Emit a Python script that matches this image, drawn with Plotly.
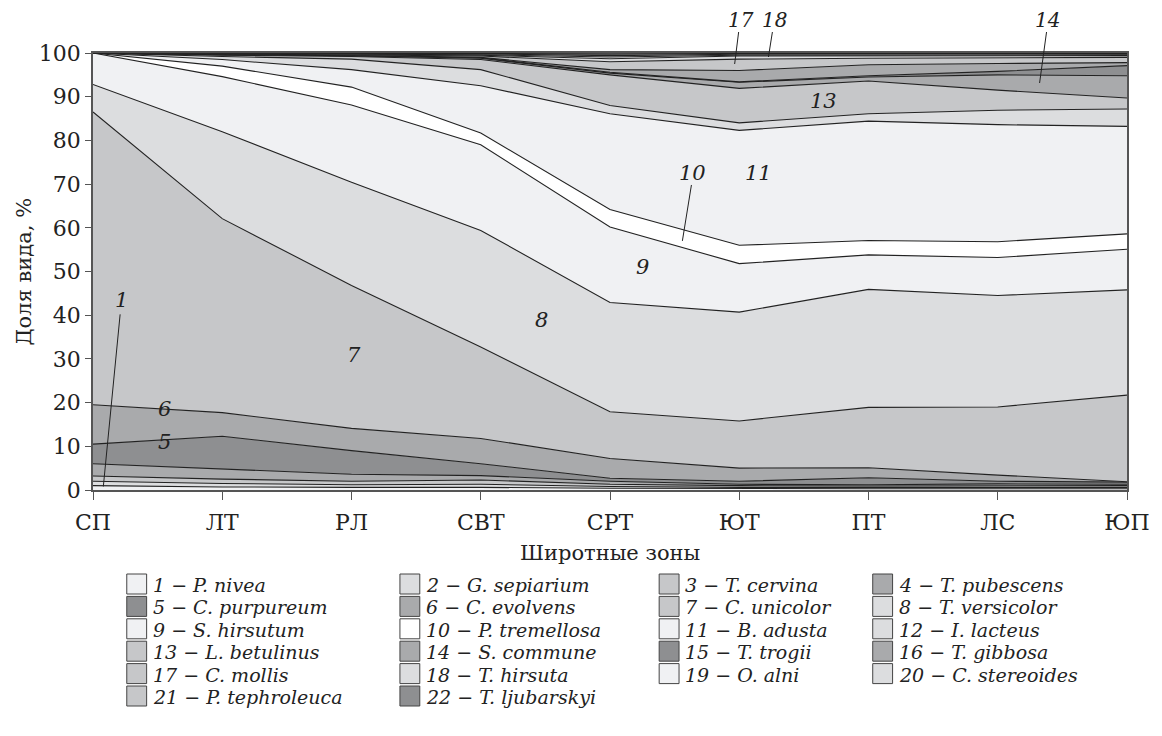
import plotly.graph_objects as go

zones = ["СП", "ЛТ", "РЛ", "СВТ", "СРТ", "ЮТ", "ПТ", "ЛС", "ЮП"]
y_ticks = [0, 10, 20, 30, 40, 50, 60, 70, 80, 90, 100]

species = [
    "P. nivea", "G. sepiarium", "T. cervina", "T. pubescens", "C. purpureum",
    "C. evolvens", "C. unicolor", "T. versicolor", "S. hirsutum", "P. tremellosa",
    "B. adusta", "I. lacteus", "L. betulinus", "S. commune", "T. trogii",
    "T. gibbosa", "C. mollis", "T. hirsuta", "O. alni", "C. stereoides",
    "P. tephroleuca", "T. ljubarskyi",
]

# share of each species, % (per latitudinal zone)
sp01 = [1.0, 0.7, 0.6, 0.6, 0.4, 0.3, 0.3, 0.3, 0.3]
sp02 = [1.0, 0.8, 0.6, 0.7, 0.4, 0.3, 0.3, 0.3, 0.3]
sp03 = [1.2, 1.0, 0.8, 1.0, 0.5, 0.4, 0.3, 0.4, 0.4]
sp04 = [2.8, 2.3, 1.6, 1.0, 0.7, 0.3, 0.3, 0.4, 0.3]
sp05 = [4.5, 7.5, 5.4, 2.7, 0.7, 0.7, 1.6, 0.6, 0.5]
sp06 = [9.0, 5.4, 5.1, 5.8, 4.5, 3.0, 2.3, 1.4, 0.1]
sp07 = [67.0, 44.4, 32.7, 20.9, 10.7, 10.8, 13.8, 15.6, 19.8]
sp08 = [6.3, 19.9, 23.6, 26.7, 25.0, 24.9, 27.0, 25.5, 24.1]
sp09 = [7.2, 12.6, 17.7, 19.6, 17.3, 11.1, 7.9, 8.7, 9.3]
sp10 = [0.0, 2.4, 4.1, 2.7, 4.0, 4.2, 3.3, 3.6, 3.5]
sp11 = [0.0, 1.5, 4.0, 10.8, 21.9, 26.3, 27.3, 26.8, 24.6]
sp12 = [0.0, 0.7, 2.4, 3.7, 1.9, 1.7, 1.7, 3.3, 4.0]
sp13 = [0.0, 0.3, 0.6, 2.3, 7.0, 7.9, 7.5, 4.6, 2.5]
sp14 = [0.0, 0.1, 0.2, 0.3, 0.4, 1.4, 0.9, 3.5, 5.1]
sp15 = [0.0, 0.0, 0.0, 0.1, 0.2, 0.1, 0.3, 0.8, 2.3]
sp16 = [0.0, 0.1, 0.1, 0.1, 0.6, 2.6, 2.5, 1.8, 0.7]
sp17 = [0.0, 0.1, 0.1, 0.3, 1.8, 2.6, 1.5, 1.3, 1.2]
sp18 = [0.0, 0.1, 0.1, 0.2, 0.7, 0.7, 0.5, 0.4, 0.4]
sp19 = [0.0, 0.0, 0.1, 0.1, 0.4, 0.2, 0.2, 0.2, 0.2]
sp20 = [0.0, 0.1, 0.1, 0.2, 0.3, 0.2, 0.2, 0.2, 0.2]
sp21 = [0.0, 0.0, 0.1, 0.1, 0.3, 0.2, 0.2, 0.2, 0.1]
sp22 = [0.0, 0.0, 0.0, 0.1, 0.3, 0.1, 0.1, 0.1, 0.1]

shares = [sp01, sp02, sp03, sp04, sp05, sp06, sp07, sp08, sp09, sp10, sp11,
          sp12, sp13, sp14, sp15, sp16, sp17, sp18, sp19, sp20, sp21, sp22]

VL, L, M, MD, D, W = "#f0f1f3", "#dcdddf", "#c6c7c9", "#a9aaac", "#8e8f91", "#ffffff"
fills = [VL, L, M, MD, D, MD, M, L, VL, W, VL, L, M, MD, D, MD, M, L, VL, L, M, D]

FONT = "DejaVu Serif"
INK = "#222222"
W_PX, H_PX = 1162, 736
ML, MR, MT, MB = 93, 28, 53, 246
PW, PH = W_PX - ML - MR, H_PX - MT - MB

def px_to_paper(px, py):
    return (px - ML) / PW, (H_PX - MB - py) / PH

xs = list(range(len(zones)))
fig = go.Figure()
for i, vals in enumerate(shares):
    fig.add_trace(go.Scatter(
        x=xs, y=vals, stackgroup="one", mode="lines",
        line=dict(color=INK, width=1.1), fillcolor=fills[i],
        name=f"{i+1} − {species[i]}", showlegend=False, hoverinfo="skip",
    ))

shapes, annotations = [], []

# legend (4 columns x 6 rows)
col_x = [127, 402, 663, 878]
row_y0, row_dy, box = 584, 22.4, 20
for i, name in enumerate(species):
    r, c = divmod(i, 4)
    bx, by = col_x[c], row_y0 + r * row_dy
    x0, y0 = px_to_paper(bx, by + box / 2)
    x1, y1 = px_to_paper(bx + box, by - box / 2)
    shapes.append(dict(type="rect", xref="paper", yref="paper", x0=x0, y0=y0, x1=x1, y1=y1,
                       fillcolor=fills[i], line=dict(color="#444444", width=1)))
    tx, ty = px_to_paper(bx + box + 5, by + 1)
    annotations.append(dict(xref="paper", yref="paper", x=tx, y=ty, xanchor="left", yanchor="middle",
                            text=f"{i+1} − {name}", showarrow=False, borderpad=0,
                            font=dict(family=FONT, size=19, color=INK, style="italic")))

# in-chart labels (x in zone index, y in %)
labels = [("1", 0.22, 43.5), ("6", 0.55, 18.5), ("5", 0.55, 11), ("7", 2.02, 31),
          ("8", 3.47, 39), ("9", 4.25, 51), ("10", 4.64, 72.5), ("11", 5.15, 72.5),
          ("13", 5.65, 89)]
for t, x, y in labels:
    annotations.append(dict(x=x, y=y, xref="x", yref="y", text=t, showarrow=False,
                            font=dict(family=FONT, size=21, color=INK, style="italic")))

pointers = [(0.21, 40.2, 0.08, 0.8), (4.63, 69.8, 4.56, 57.0)]
for x0, y0, x1, y1 in pointers:
    shapes.append(dict(type="line", xref="x", yref="y", x0=x0, y0=y0, x1=x1, y1=y1,
                       line=dict(color=INK, width=1)))

# labels above the plot area (pixel positions) with leader lines into the layers
top_labels = [("17", 745, 20, 743, 32, 739, 64), ("18", 779, 20, 777, 32, 773, 57),
              ("14", 1054, 20, 1053, 32, 1046, 83)]
for t, lx, ly, ax0, ay0, ax1, ay1 in top_labels:
    px, py = px_to_paper(lx, ly)
    annotations.append(dict(xref="paper", yref="paper", x=px, y=py, text=t, showarrow=False,
                            xanchor="center", yanchor="middle", borderpad=0,
                            font=dict(family=FONT, size=20, color=INK, style="italic")))
    a0 = px_to_paper(ax0, ay0)
    a1 = px_to_paper(ax1, ay1)
    shapes.append(dict(type="line", xref="paper", yref="paper", x0=a0[0], y0=a0[1],
                       x1=a1[0], y1=a1[1], line=dict(color=INK, width=1), layer="above"))

# axis titles
tx, ty = px_to_paper(613, 553)
annotations.append(dict(xref="paper", yref="paper", x=tx, y=ty, text="Широтные зоны",
                        showarrow=False, xanchor="center", yanchor="middle",
                        font=dict(family=FONT, size=21, color=INK)))
tx, ty = px_to_paper(24, 271)
annotations.append(dict(xref="paper", yref="paper", x=tx, y=ty, text="Доля вида, %",
                        showarrow=False, xanchor="center", yanchor="middle", textangle=-90,
                        font=dict(family=FONT, size=21, color=INK)))

fig.update_layout(
    width=W_PX, height=H_PX,
    margin=dict(l=ML, r=MR, t=MT, b=MB, pad=0),
    paper_bgcolor="white", plot_bgcolor="white",
    font=dict(family=FONT, size=21, color=INK),
    showlegend=False,
    shapes=shapes, annotations=annotations,
    xaxis=dict(range=[0, 8], tickvals=xs, ticktext=zones, ticks="outside", ticklen=8,
               tickcolor="#555", showline=True, linecolor="#555", linewidth=1.8, mirror=True,
               showgrid=False, zeroline=False, tickfont=dict(size=22, color=INK),
               ticklabelstandoff=4),
    yaxis=dict(range=[0, 100], tickvals=y_ticks, ticks="outside", ticklen=6,
               tickcolor="#555", showline=True, linecolor="#555", linewidth=1.8, mirror=True,
               showgrid=False, zeroline=False, tickfont=dict(size=22, color=INK)),
)

fig.write_html("out.html")
